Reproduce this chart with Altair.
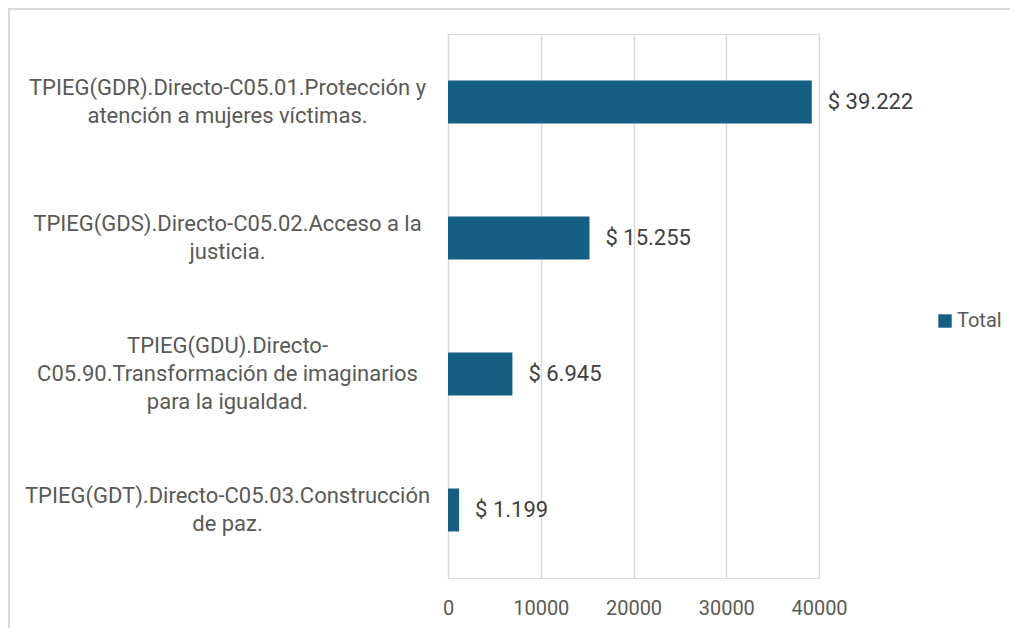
import altair as alt
import pandas as pd

categorias = [
    "TPIEG(GDR).Directo-C05.01.Protección y|atención a mujeres víctimas.",
    "TPIEG(GDS).Directo-C05.02.Acceso a la|justicia.",
    "TPIEG(GDU).Directo-|C05.90.Transformación de imaginarios|para la igualdad.",
    "TPIEG(GDT).Directo-C05.03.Construcción|de paz.",
]
valores = [39222, 15255, 6945, 1199]
serie = ["Total"] * 4

df = pd.DataFrame({"categoria": categorias, "valor": valores, "serie": serie})
deco = pd.DataFrame({"k": [0]})

FONT = "Roboto"
TXT = "#595959"
BAR = "#156082"

y_enc = alt.Y(
    "categoria:N",
    sort=categorias,
    scale=alt.Scale(paddingInner=0.684, paddingOuter=0.342),
    axis=alt.Axis(
        title=None, domain=False, ticks=False, grid=False,
        labelExpr="split(datum.label, '|')",
        labelAlign="center", labelPadding=221, labelFontSize=22,
        labelLineHeight=28, labelColor=TXT, labelFont=FONT, labelLimit=600,
        labelOffset={
            "condition": {
                "test": "indexof(datum.value, '|') != lastindexof(datum.value, '|')",
                "value": -28,
            },
            "value": -14,
        },
    ),
)
x_enc = alt.X(
    "valor:Q",
    scale=alt.Scale(domain=[0, 40000], nice=False),
    axis=alt.Axis(
        title=None, domain=False, ticks=False, values=[0, 10000, 20000, 30000, 40000],
        format="d", gridColor="#d9d9d9", gridWidth=1.5, labelFontSize=20,
        labelColor=TXT, labelFont=FONT, labelPadding=20, labelFlush=False,
        labelOverlap=False,
    ),
)

bars = alt.Chart(df).mark_bar().encode(
    x=x_enc,
    y=y_enc,
    color=alt.Color(
        "serie:N",
        scale=alt.Scale(range=[BAR]),
        legend=alt.Legend(
            title=None, orient="none", legendX=487, legendY=277,
            symbolType="square", symbolSize=180, symbolStrokeWidth=0,
            labelFontSize=20, labelColor=TXT, labelFont=FONT, labelOffset=2,
        ),
    ),
)

labels = alt.Chart(df).transform_calculate(
    etiqueta="'$ ' + replace(format(datum.valor, ','), /,/g, '.')"
).mark_text(align="left", baseline="middle", dx=16, fontSize=22, font=FONT, color="#404040").encode(
    x="valor:Q",
    y=alt.Y("categoria:N", sort=categorias),
    text="etiqueta:N",
)

# light frame (top and left edges of the chart area)
border_top = alt.Chart(deco).mark_rect(color="#d9d9d9").encode(
    x=alt.value(-440), x2=alt.value(580), y=alt.value(-26), y2=alt.value(-24)
)
border_left = alt.Chart(deco).mark_rect(color="#d9d9d9").encode(
    x=alt.value(-440), x2=alt.value(-438), y=alt.value(-26), y2=alt.value(610)
)

chart = alt.layer(bars, labels, border_top, border_left).properties(
    width=371,
    height=544,
    autosize=alt.AutoSizeParams(type="none"),
    padding={"left": 440, "top": 26, "right": 191, "bottom": 50},
).configure_view(stroke=None).configure(background="white")

chart.save("out.html", embed_options={"renderer": "svg", "actions": False})
